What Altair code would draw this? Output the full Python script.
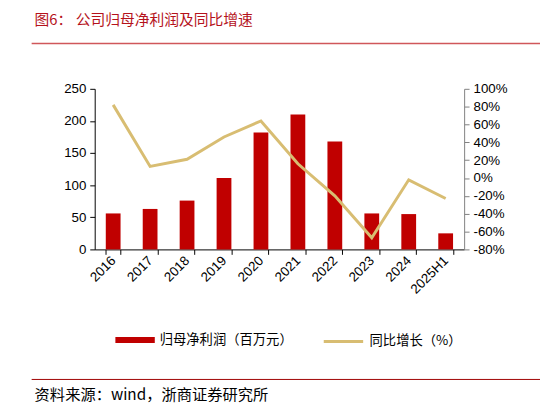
import altair as alt
import pandas as pd

# values
years = ["2016", "2017", "2018", "2019", "2020", "2021", "2022", "2023", "2024", "2025H1"]
profit = [56, 63, 76, 111, 182, 210, 168, 56, 55, 25]        # 百万元
growth = [82, 13, 21, 46, 64, 16, -20, -67, -2, -23]         # %

bar_name = "归母净利润（百万元）"
line_name = "同比增长（%）"
title_text = "图6：  公司归母净利润及同比增速"
source_text = "资料来源：wind，浙商证券研究所"

RED = "#C00000"
GOLD = "#D8BD72"
CJK = "Noto Sans CJK SC"
NUM = "Liberation Sans"

df = pd.DataFrame({"year": years, "profit": profit, "growth": growth,
                   "bar_s": bar_name, "line_s": line_name})
one = alt.Data(values=[{}])

x = alt.X(
    "year:N", sort=years, title=None,
    scale=alt.Scale(paddingInner=0.6, paddingOuter=0.3),
    axis=alt.Axis(labelAngle=-45, labelAlign="right", labelBaseline="middle",
                  tickBand="extent", tickSize=5, labelPadding=4,
                  labelFont=NUM, labelFontSize=13.5, labelColor="#000",
                  domainColor="#000", tickColor="#000"),
)

legend_common = dict(title=None, orient="none", direction="horizontal", padding=0,
                     labelOffset=5, labelFont=CJK, labelFontSize=13.5, labelColor="#000")

bars = alt.Chart(df).mark_bar().encode(
    x=x,
    y=alt.Y("profit:Q", title=None,
            scale=alt.Scale(domain=[0, 250], nice=False),
            axis=alt.Axis(orient="left", values=[0, 50, 100, 150, 200, 250], grid=False,
                          tickSize=5, labelPadding=4, labelFont=NUM, labelFontSize=13.5,
                          labelColor="#000", domainColor="#000", tickColor="#000")),
    fill=alt.Fill("bar_s:N", scale=alt.Scale(domain=[bar_name], range=[RED]),
                  legend=alt.Legend(legendX=21, legendY=235,
                                    symbolType="M-1,-0.15L1,-0.15L1,0.15L-1,0.15Z",
                                    symbolSize=1600, symbolStrokeWidth=0,
                                    **legend_common)),
)

line = alt.Chart(df).mark_line(strokeWidth=3).encode(
    x=x,
    y=alt.Y("growth:Q", title=None,
            scale=alt.Scale(domain=[-80, 100], nice=False),
            axis=alt.Axis(orient="right", values=list(range(-80, 101, 20)), grid=False,
                          labelExpr="datum.value + '%'", tickSize=5, labelPadding=4,
                          labelFont=NUM, labelFontSize=13.5, labelColor="#000",
                          domainColor="#808080", tickColor="#808080")),
    stroke=alt.Stroke("line_s:N", scale=alt.Scale(domain=[line_name], range=[GOLD]),
                      legend=alt.Legend(legendX=231, legendY=235,
                                        symbolType="stroke", symbolSize=1600,
                                        symbolStrokeWidth=3,
                                        **legend_common)),
)

# page decoration: heading, rules, source note
title = alt.Chart(one).mark_text(
    text=title_text, align="left", baseline="middle",
    font=CJK, fontSize=15, color="#B5121B",
).encode(x=alt.value(-61), y=alt.value(-70))

top_rule = alt.Chart(one).mark_rule(color="#D0575A", strokeWidth=1.5).encode(
    x=alt.value(-64), x2=alt.value(452), y=alt.value(-46))

bottom_rule = alt.Chart(one).mark_rule(color="#A00000", strokeWidth=1).encode(
    x=alt.value(-64), x2=alt.value(452), y=alt.value(295))

source = alt.Chart(one).mark_text(
    text=source_text, align="left", baseline="middle",
    font=CJK, fontSize=15.5, color="#000",
).encode(x=alt.value(-61), y=alt.value(311))

chart = alt.layer(bars, line, title, top_rule, bottom_rule, source).resolve_scale(
    y="independent"
).properties(
    width=375, height=163,
    autosize=alt.AutoSizeParams(type="none"),
    padding={"left": 88, "top": 79, "right": 77, "bottom": 162},
).configure_view(stroke=None)

chart.save("out.html", embed_options={"renderer": "svg", "actions": False})
